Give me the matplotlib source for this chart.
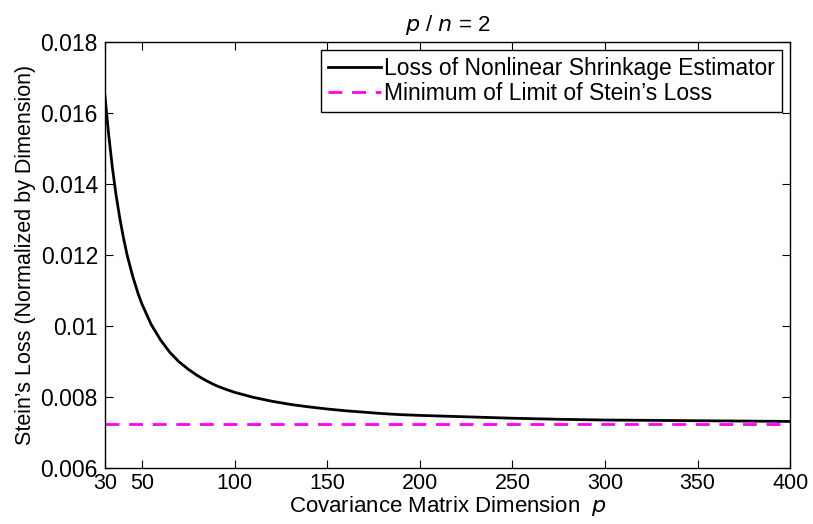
import matplotlib
matplotlib.use('Agg')
import matplotlib.pyplot as plt

# covariance matrix dimension p and normalized Stein's loss
dims = [30, 32, 34, 36, 38, 40, 42, 45, 48, 50, 55, 60, 65, 70, 75, 80, 85, 90, 95, 100,
        110, 120, 130, 140, 150, 160, 170, 180, 190, 200, 225, 250, 275, 300, 325, 350, 375, 400]
loss = [0.0165, 0.01541, 0.01448, 0.0137, 0.01305, 0.01249, 0.0120, 0.0114, 0.0109, 0.01062,
        0.01004, 0.00961, 0.00926, 0.00899, 0.00878, 0.0086, 0.00845, 0.00832, 0.00822, 0.00813,
        0.00799, 0.00788, 0.00779, 0.00772, 0.00766, 0.00761, 0.00757, 0.00753, 0.0075, 0.00748,
        0.00744, 0.0074, 0.00737, 0.00735, 0.00734, 0.00733, 0.00732, 0.00731]
min_limit = 0.00723

xticks = [30, 50, 100, 150, 200, 250, 300, 350, 400]
yticks = [0.006, 0.008, 0.01, 0.012, 0.014, 0.016, 0.018]
ytick_labels = ['0.006', '0.008', '0.01', '0.012', '0.014', '0.016', '0.018']

plt.rcParams['font.family'] = ['Liberation Sans', 'DejaVu Sans']
plt.rcParams['font.size'] = 16

fig = plt.figure(figsize=(8.13, 5.24), dpi=100)
ax = fig.add_axes([0.129, 0.107, 0.843, 0.813])

ax.plot(dims, loss, color='black', lw=2, label='Loss of Nonlinear Shrinkage Estimator')
ax.plot([dims[0], dims[-1]], [min_limit, min_limit], color='magenta', lw=2,
        linestyle=(0, (5, 3.5)), label='Minimum of Limit of Stein\u2019s Loss')

ax.set_xlim(30, 400)
ax.set_ylim(0.006, 0.018)
ax.set_xticks(xticks)
ax.set_yticks(yticks)
ax.set_yticklabels(ytick_labels)
ax.tick_params(direction='in', top=True, right=True, length=6, width=0.8, labelsize=16.5)
ax.tick_params(axis='x', pad=4, labelsize=15.5)
ax.tick_params(axis='y', pad=5)
for s in ax.spines.values():
    s.set_linewidth(1)

ax.set_xlabel('Covariance Matrix Dimension  $\\it{p}$', fontsize=16, labelpad=0)
ax.set_ylabel('Stein\u2019s Loss (Normalized by Dimension)', fontsize=15.5, labelpad=3)
ax.set_title('$\\it{p}$ / $\\it{n}$ = 2', fontsize=16, pad=8)

leg = ax.legend(loc='upper right', fancybox=False, framealpha=1, edgecolor='black',
                fontsize=16.5, handlelength=2.3, handletextpad=0.15, borderpad=0.3,
                labelspacing=0.1, borderaxespad=0.35)
leg.get_frame().set_linewidth(1)

fig.savefig('out.png', dpi=100)
